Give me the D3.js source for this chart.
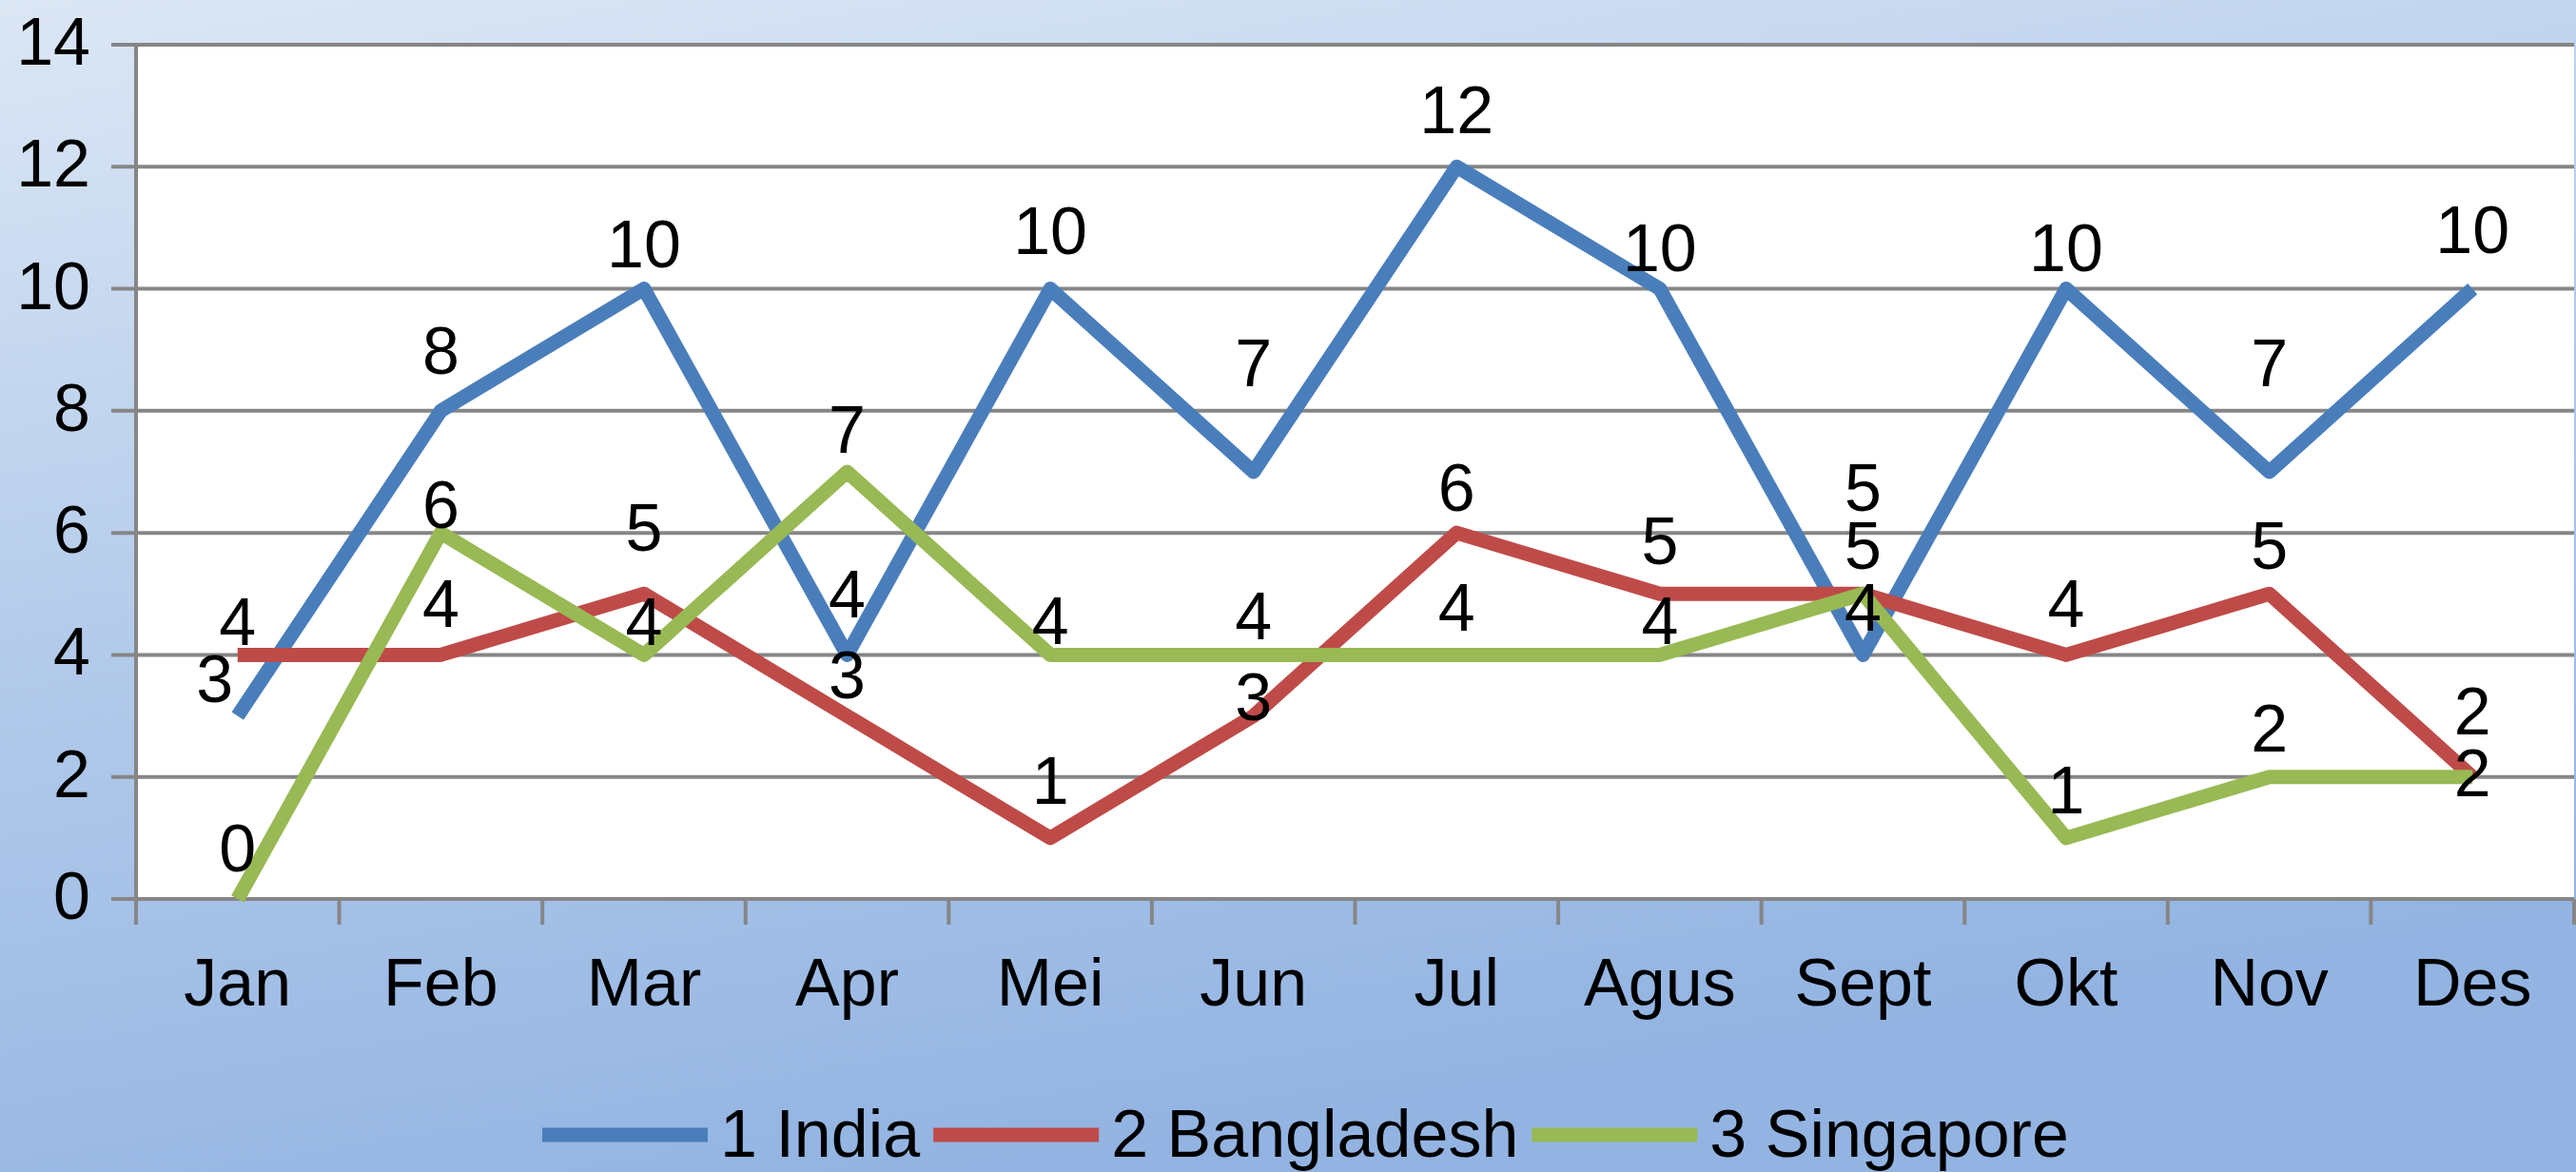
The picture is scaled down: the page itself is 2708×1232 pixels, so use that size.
<!DOCTYPE html>
<html lang="en">
<head>
    <meta charset="UTF-8">
    <title>India Bangladesh Singapore</title>
    <style>
        body { margin: 0; }
        svg { display: block; }
        text { font-family: "Liberation Sans", Arial, sans-serif; fill: #000; }
    </style>
</head>
<body>
<script src="https://cdn.jsdelivr.net/npm/d3@7"></script>
<script type="text/javascript">
    //Data
    var months = ["Jan", "Feb", "Mar", "Apr", "Mei", "Jun", "Jul", "Agus", "Sept", "Okt", "Nov", "Des"];
    var india = [3, 8, 10, 4, 10, 7, 12, 10, 4, 10, 7, 10];
    var bangladesh = [4, 4, 5, 3, 1, 3, 6, 5, 5, 4, 5, 2];
    var singapore = [0, 6, 4, 7, 4, 4, 4, 4, 5, 1, 2, 2];
    var seriesNames = ["1 India", "2 Bangladesh", "3 Singapore"];
    var yTicks = [0, 2, 4, 6, 8, 10, 12, 14];

    //label nudges (px, vertical), as the labels sit in the original
    var indiaNudge = [10, -14, 2, -14, -12, -65, -10, 6, 0, 6, -65, -13];
    var bangladeshNudge = [15, -4, -20, 6, -11, 29, 2, -6, -1, -4, -1, -20];
    var singaporeNudge = [-4, 20, 15, 5, 14, 9, 0, 14, -62, -1, -2, 45];

    var series = [
        { name: seriesNames[0], values: india, nudge: indiaNudge, color: "#4A7EBB" },
        { name: seriesNames[1], values: bangladesh, nudge: bangladeshNudge, color: "#BE4B48" },
        { name: seriesNames[2], values: singapore, nudge: singaporeNudge, color: "#98B954" }
    ];

    //Width and height
    var w = 2708;
    var h = 1232;
    var plot = { left: 143, right: 2706, top: 47, bottom: 945 };
    var fontSize = 70;
    var grid = "#868686";

    var xScale = d3.scaleBand()
        .domain(months)
        .range([plot.left, plot.right])
        .padding(0);
    var yScale = d3.scaleLinear()
        .domain([0, 14])
        .range([plot.bottom, plot.top]);
    var xc = function(m) { return xScale(m) + xScale.bandwidth() / 2; };

    //Create SVG element
    var svg = d3.select("body")
        .append("svg")
        .attr("width", w)
        .attr("height", h);

    //Background gradient
    var grad = svg.append("defs").append("linearGradient")
        .attr("id", "bg")
        .attr("x1", "0").attr("y1", "0")
        .attr("x2", "0.35").attr("y2", "1");
    grad.append("stop").attr("offset", "0").attr("stop-color", "#dce7f5");
    grad.append("stop").attr("offset", "0.5").attr("stop-color", "#b3cbeb");
    grad.append("stop").attr("offset", "1").attr("stop-color", "#93b4e2");

    svg.append("rect")
        .attr("width", w)
        .attr("height", h)
        .attr("fill", "url(#bg)");

    //Plot area
    svg.append("rect")
        .attr("x", plot.left)
        .attr("y", plot.top)
        .attr("width", plot.right - plot.left)
        .attr("height", plot.bottom - plot.top)
        .attr("fill", "#fff");

    //Gridlines + y ticks
    svg.append("g")
        .selectAll("line")
        .data(yTicks)
        .enter()
        .append("line")
        .attr("x1", plot.left - 26)
        .attr("x2", plot.right)
        .attr("y1", function(d) { return yScale(d); })
        .attr("y2", function(d) { return yScale(d); })
        .attr("stroke", grid)
        .attr("stroke-width", 4);

    //y axis line
    svg.append("line")
        .attr("x1", plot.left).attr("x2", plot.left)
        .attr("y1", plot.top).attr("y2", plot.bottom + 27)
        .attr("stroke", grid)
        .attr("stroke-width", 4);

    //x ticks between categories
    var bounds = months.map(function(m) { return xScale(m); }).concat([plot.right]);
    svg.append("g")
        .selectAll("line")
        .data(bounds)
        .enter()
        .append("line")
        .attr("x1", function(d) { return d; })
        .attr("x2", function(d) { return d; })
        .attr("y1", plot.bottom)
        .attr("y2", plot.bottom + 27)
        .attr("stroke", grid)
        .attr("stroke-width", 4);

    //y labels
    svg.append("g")
        .selectAll("text")
        .data(yTicks)
        .enter()
        .append("text")
        .attr("x", 95)
        .attr("y", function(d) { return yScale(d) + 21; })
        .attr("text-anchor", "end")
        .attr("font-size", fontSize)
        .text(function(d) { return d; });

    //x labels
    svg.append("g")
        .selectAll("text")
        .data(months)
        .enter()
        .append("text")
        .attr("x", function(d) { return xc(d); })
        .attr("y", 1057)
        .attr("text-anchor", "middle")
        .attr("font-size", fontSize)
        .text(function(d) { return d; });

    //Lines
    var line = d3.line()
        .x(function(d, i) { return xc(months[i]); })
        .y(function(d) { return yScale(d); });

    svg.append("g")
        .selectAll("path")
        .data(series)
        .enter()
        .append("path")
        .attr("d", function(s) { return line(s.values); })
        .attr("fill", "none")
        .attr("stroke", function(s) { return s.color; })
        .attr("stroke-width", 15)
        .attr("stroke-linejoin", "round");

    //Data labels (centre about 50px above the point)
    series.forEach(function(s, k) {
        svg.append("g")
            .selectAll("text")
            .data(s.values)
            .enter()
            .append("text")
            .attr("x", function(d, i) {
                // India's Jan label sits left of its point
                return xc(months[i]) - (k === 0 && i === 0 ? 24 : 0);
            })
            .attr("y", function(d, i) { return yScale(d) - 25 + s.nudge[i]; })
            .attr("text-anchor", "middle")
            .attr("font-size", fontSize)
            .text(function(d) { return d; });
    });

    //Legend
    var legend = svg.append("g");
    var lx = 570;
    var ly = 1193;
    series.forEach(function(s) {
        legend.append("line")
            .attr("x1", lx).attr("x2", lx + 174)
            .attr("y1", ly).attr("y2", ly)
            .attr("stroke", s.color)
            .attr("stroke-width", 15);
        var t = legend.append("text")
            .attr("x", lx + 187)
            .attr("y", 1216)
            .attr("font-size", fontSize)
            .text(s.name);
        lx = lx + 187 + t.node().getComputedTextLength() + 14;
    });
</script>
</body>
</html>
